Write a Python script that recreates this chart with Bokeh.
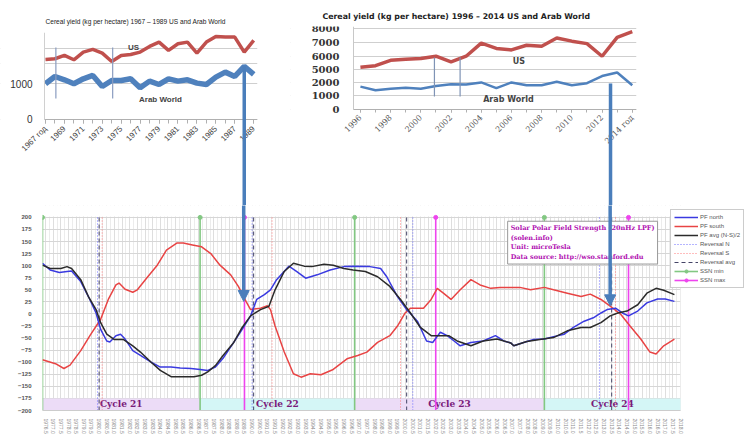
from bokeh.plotting import figure
from bokeh.layouts import column, row
from bokeh.models import (Range1d, FixedTicker, SingleIntervalTicker, PrintfTickFormatter,
                          Label, Legend, LegendItem, BoxAnnotation)
from bokeh.core.properties import value
from bokeh.embed import file_html
from bokeh.resources import INLINE

# ---------------- data: cereal yield 1967-1989 ----------------
years_a = list(range(1967, 1990))
us_a = [1682, 1701, 1794, 1673, 1888, 1963, 1860, 1626, 1794, 1822, 1888, 2047, 2168,
        1935, 2121, 2168, 1860, 2168, 2327, 2308, 2308, 1888, 2215]
arab_a = [1000, 1205, 1112, 1000, 1140, 1234, 925, 1093, 1093, 1140, 888, 1075, 981,
          1140, 1075, 1112, 1019, 981, 1187, 1327, 1206, 1486, 1262]
ticks_a = list(range(1967, 1990, 2))
tick_labels_a = {1967: "1967 год"}
brackets_a = [1968.1, 1974.1]

# ---------------- data: cereal yield 1996-2014 ----------------
years_b = list(range(1996, 2015))
us_b = [5186, 5297, 5690, 5760, 5830, 5990, 5570, 5990, 6950, 6560, 6450, 6790, 6720,
        7320, 7090, 6910, 5990, 7370, 7780]
arab_b = [1670, 1410, 1515, 1590, 1515, 1715, 1846, 1820, 1975, 1565, 1975, 1770, 1770,
          2025, 1770, 1920, 2440, 2700, 1770]
ticks_b = list(range(1996, 2015, 2))
tick_labels_b = {2014: "2014 год"}
ytick_values_b = [0, 1000, 2000, 5000, 6000, 7000, 8000]
brackets_b = [2000.9, 2002.6]

# ---------------- data: solar polar field strength ----------------
north_x = [1976.3, 1976.8, 1977.4, 1977.9, 1978.2, 1978.8, 1979.3, 1979.8, 1980.1, 1980.5, 1980.7,
           1981.1, 1981.4, 1981.7, 1982.2, 1982.7, 1983.4, 1984.0, 1984.7, 1985.3, 1986.0, 1986.6,
           1987.1, 1987.6, 1988.1, 1988.8, 1989.35, 1989.9, 1990.3, 1990.8, 1991.2, 1991.6, 1992.4,
           1992.9, 1993.5, 1994.25, 1995.1, 1996.0, 1996.6, 1997.7, 1998.4, 1998.8, 1999.5, 2000.1,
           2000.8, 2001.4, 2001.8, 2002.3, 2002.75, 2003.2, 2003.6, 2004.3, 2005.1, 2005.9, 2006.45,
           2006.9, 2007.1, 2007.75, 2008.4, 2009.1, 2009.7, 2010.4, 2011.0, 2011.7, 2012.3, 2012.8,
           2013.2, 2013.75, 2014.2, 2014.6, 2015.2, 2015.8, 2016.5, 2017.0, 2017.6]
north_y = [105, 91, 86, 88, 89, 67, 36, 2, -32, -56, -58,
           -45, -42, -52, -76, -86, -100, -110, -110, -112, -113, -115,
           -117, -110, -92, -59, -32, -4, 30, 40, 50, 71, 99,
           88, 74, 81, 91, 98, 99, 98, 94, 77, 36, 9,
           -15, -56, -59, -38, -45, -56, -66, -59, -56, -45, -56,
           -60, -66, -59, -53, -52, -47, -42, -28, -15, -8, 2,
           9, 12, 2, -4, 6, 23, 31, 31, 26]
south_x = [1976.3, 1977.15, 1977.7, 1978.1, 1978.8, 1979.4, 1980.1, 1980.6, 1981.1, 1981.3, 1981.7,
           1982.2, 1982.5, 1983.1, 1983.8, 1984.4, 1985.1, 1985.5, 1986.1, 1986.7, 1987.3, 1987.9,
           1988.6, 1989.1, 1989.6, 1989.9, 1990.55, 1991.0, 1991.2, 1991.5, 1992.1, 1992.7, 1993.2,
           1993.8, 1994.5, 1995.3, 1996.2, 1996.9, 1997.5, 1998.2, 1999.0, 1999.5, 2000.0, 2000.35,
           2001.2, 2001.7, 2002.1, 2002.5, 2003.0, 2003.6, 2004.3, 2004.9, 2005.6, 2006.2, 2006.9,
           2007.5, 2008.2, 2009.1, 2009.7, 2010.6, 2011.5, 2012.1, 2012.8, 2013.4, 2014.1, 2014.7,
           2015.4, 2016.0, 2016.4, 2016.9, 2017.6]
south_y = [-95, -103, -113, -106, -76, -45, -11, 30, 60, 64, 51,
           45, 50, 74, 101, 132, 147, 147, 143, 139, 125, 101,
           81, 57, 26, 9, 12, 17, 9, -25, -79, -124, -131,
           -124, -126, -115, -93, -86, -79, -59, -45, -25, 2, 12,
           12, 30, 53, 43, 30, 50, 71, 60, 53, 55, 55,
           55, 50, 55, 50, 43, 36, 41, 30, 16, -1, -25,
           -52, -79, -83, -66, -52]
avg_x = [1976.3, 1976.8, 1977.5, 1977.9, 1978.2, 1978.8, 1979.3, 1979.8, 1980.1, 1980.5, 1981.0,
         1981.6, 1982.2, 1982.7, 1983.4, 1984.0, 1984.7, 1985.4, 1986.2, 1986.7, 1987.1, 1987.6,
         1988.1, 1988.8, 1989.35, 1989.9, 1990.55, 1991.1, 1991.5, 1992.1, 1992.7, 1993.4, 1993.9,
         1994.7, 1995.3, 1996.0, 1996.6, 1997.4, 1998.2, 1999.0, 1999.7, 2000.35, 2001.0, 2001.7,
         2002.2, 2002.85, 2003.4, 2004.3, 2005.1, 2006.0, 2006.9, 2007.1, 2007.95, 2008.8, 2009.7,
         2010.6, 2011.5, 2012.1, 2012.8, 2013.4, 2013.9, 2014.5, 2015.2, 2015.8, 2016.4, 2016.9,
         2017.6]
avg_y = [101, 94, 94, 98, 94, 71, 36, 9, -18, -42, -53,
         -53, -66, -79, -100, -117, -130, -130, -130, -127, -120, -107,
         -86, -59, -28, -4, 9, 16, 50, 88, 105, 99, 98,
         103, 101, 94, 91, 88, 77, 57, 30, 2, -28, -45,
         -45, -45, -56, -66, -56, -52, -60, -66, -57, -53, -49,
         -35, -28, -28, -18, -4, 2, 6, 19, 43, 53, 49,
         40]
ssn_min = [1976.3, 1986.6, 1996.7, 2009.1]
ssn_max = [1989.5, 2002.0, 2014.6]
reversal_n = [1979.9, 1990.0, 2000.5, 2012.7]
reversal_s = [1980.2, 1991.3, 1999.7, 2013.75]
reversal_avg = [1980.0, 1990.1, 2000.1, 2013.5]
cycle_names = ["Cycle 21", "Cycle 22", "Cycle 23", "Cycle 24"]
cycle_start = [1976.3, 1986.6, 1996.7, 2009.1]
cycle_end = [1986.6, 1996.7, 2009.1, 2018.0]
cycle_colors = ["#ecdcf7", "#d4f6f6", "#ecdcf7", "#d4f6f6"]

# arrows linking the charts
arrow_a_year = years_a[21]
arrow_a_start = arab_a[21]
arrow_b_year = 2012.56
arrow_b_start = 1900
arrow_c_years = [1989.45, 2013.4]
arrow_c_tips = [26, 17]

RED = "#c0504d"
BLUE = "#4f81bd"
ARROW = "#4a7ebb"
SANS = "Liberation Sans"
SERIF = "DejaVu Serif"

# ====================== top-left chart ======================
XA0, XA1 = 1966.9, 1989.4          # data area
XA_LEFT = 1962.25                  # frame extends over the label margin
YA_TOP, YA_BOT = 2437, -2409
pa = figure(width=290, height=205, x_range=Range1d(XA_LEFT, XA1), y_range=Range1d(YA_BOT, YA_TOP),
            output_backend="svg", toolbar_location=None, frame_align=False,
            min_border_left=0, min_border_right=33, min_border_top=32, min_border_bottom=0)
pa.outline_line_color = None
pa.title.text = "Cereal yield (kg per hectare)  1967 – 1989 US and Arab World"
pa.title.text_font = SANS
pa.title.text_font_size = "6.6px"
pa.title.text_font_style = "normal"
pa.title.text_color = "#222222"
pa.title.offset = 45
pa.title.standoff = 15
pa.add_layout(BoxAnnotation(right=XA0, fill_color="white", fill_alpha=1, line_alpha=0, level="underlay"))
pa.line(years_a, us_a, line_color=RED, line_width=3.5)
pa.line(years_a, arab_a, line_color=BLUE, line_width=5.5)
pa.multi_line([[b, b] for b in brackets_a], [[590, 2020]] * 2, line_color="#8a9cc0", line_width=1.2)
pa.xaxis.fixed_location = 0
pa.xaxis.bounds = (XA0, XA1)
pa.xaxis.ticker = FixedTicker(ticks=ticks_a, minor_ticks=years_a)
pa.xaxis.major_label_overrides = tick_labels_a
pa.xaxis.major_label_orientation = 0.785
pa.xaxis.major_label_text_font = SANS
pa.xaxis.major_label_text_font_size = "8px"
pa.xaxis.major_label_text_color = "#444444"
pa.xaxis.major_label_standoff = 4
pa.xaxis.axis_line_color = "#b0b0b0"
pa.xaxis.major_tick_line_color = "#b0b0b0"
pa.xaxis.minor_tick_line_color = "#b0b0b0"
pa.xaxis.major_tick_out = 4
pa.xaxis.minor_tick_out = 4
pa.xaxis.major_tick_in = 0
pa.xaxis.minor_tick_in = 0
pa.yaxis.fixed_location = XA0
pa.yaxis.ticker = FixedTicker(ticks=[0, 1000, 1580, 2000])
pa.yaxis.major_label_overrides = {1580: "", 2000: ""}
pa.yaxis.bounds = (0, YA_TOP)
pa.yaxis.major_label_text_font = SANS
pa.yaxis.major_label_text_font_size = "10px"
pa.yaxis.major_label_text_color = "#333333"
pa.yaxis.axis_line_color = "#d0d0d0"
pa.yaxis.major_tick_line_color = None
pa.yaxis.minor_tick_line_color = None
pa.yaxis.major_label_standoff = 6
pa.xgrid.grid_line_color = None
pa.ygrid.grid_line_color = "#cfcfcf"
pa.add_layout(Label(x=1976.3, y=2017, text="US", text_font=SANS, text_font_size="8px",
                    text_font_style="bold", text_align="center", text_baseline="middle"))
pa.add_layout(Label(x=1979.15, y=560, text="Arab World", text_font=SANS, text_font_size="8px",
                    text_font_style="bold", text_align="center", text_baseline="middle"))
pa.segment(x0=[arrow_a_year], y0=[arrow_a_start], x1=[arrow_a_year], y1=[YA_BOT],
           line_color=ARROW, line_width=3.5, level="overlay")

# ====================== top-right chart ======================
BREAK = 2100  # broken axis: values above the break are drawn 2100 lower
us_b_disp = [(v - BREAK) / 1000 for v in us_b]
arab_b_disp = [v / 1000 for v in arab_b]
ytick_disp_b = [v / 1000 if v < 3000 else (v - BREAK) / 1000 for v in ytick_values_b]
XB0, XB1 = 1995.54, 2014.28
XB_LEFT = 1991.37
YB_TOP, YB_BOT = 6.06, -7.01

pbt = figure(width=454, height=205, x_range=Range1d(XB_LEFT, XB1), y_range=Range1d(YB_BOT, YB_TOP),
             output_backend="svg", toolbar_location=None, frame_align=False,
             min_border_left=0, min_border_right=108, min_border_top=26, min_border_bottom=0)
pbt.outline_line_color = None
pbt.title.text = "Cereal yield (kg per hectare)  1996 – 2014 US and Arab World"
pbt.title.text_font = "DejaVu Sans"
pbt.title.text_font_size = "7.8px"
pbt.title.text_font_style = "bold"
pbt.title.text_color = "#222222"
pbt.title.offset = 32
pbt.title.standoff = 12
pbt.add_layout(BoxAnnotation(right=XB0, fill_color="white", fill_alpha=1, line_alpha=0, level="underlay"))
pbt.line(years_b, us_b_disp, line_color=RED, line_width=3.5)
pbt.line(years_b, arab_b_disp, line_color=BLUE, line_width=2.5)
pbt.multi_line([[b, b] for b in brackets_b], [[0.95, 3.8]] * 2, line_color="#7f93b5", line_width=1.2)
pbt.xaxis.fixed_location = 0
pbt.xaxis.bounds = (XB0, XB1)
pbt.xaxis.ticker = FixedTicker(ticks=ticks_b, minor_ticks=years_b)
pbt.xaxis.major_label_overrides = tick_labels_b
pbt.xaxis.major_label_orientation = 0.785
pbt.xaxis.major_label_text_font = SERIF
pbt.xaxis.major_label_text_font_size = "8px"
pbt.xaxis.major_label_text_color = "#555555"
pbt.xaxis.major_label_standoff = 4
pbt.xaxis.axis_line_color = "#b0b0b0"
pbt.xaxis.major_tick_line_color = "#b0b0b0"
pbt.xaxis.minor_tick_line_color = "#b0b0b0"
pbt.xaxis.major_tick_out = 3
pbt.xaxis.minor_tick_out = 3
pbt.xaxis.major_tick_in = 0
pbt.xaxis.minor_tick_in = 0
pbt.yaxis.fixed_location = XB0
pbt.yaxis.ticker = FixedTicker(ticks=ytick_disp_b)
pbt.yaxis.major_label_overrides = {d: str(v) for d, v in zip(ytick_disp_b, ytick_values_b)}
pbt.yaxis.bounds = (0, YB_TOP)
pbt.yaxis.major_label_text_font = SERIF
pbt.yaxis.major_label_text_font_size = "10px"
pbt.yaxis.major_label_text_font_style = "bold"
pbt.yaxis.major_label_text_color = "#333333"
pbt.yaxis.axis_line_color = "#c8c8c8"
pbt.yaxis.major_tick_line_color = None
pbt.yaxis.minor_tick_line_color = None
pbt.yaxis.major_label_standoff = 8
pbt.xgrid.grid_line_color = None
pbt.ygrid.grid_line_color = "#cfcfcf"
pbt.add_layout(Label(x=2006.5, y=3.5, text="US", text_font="DejaVu Sans", text_font_size="8px",
                     text_font_style="bold", text_align="center", text_baseline="middle"))
pbt.add_layout(Label(x=2005.8, y=0.73, text="Arab World", text_font="DejaVu Sans",
                     text_font_size="8px", text_font_style="bold", text_align="center",
                     text_baseline="middle"))
pbt.segment(x0=[arrow_b_year], y0=[arrow_b_start / 1000], x1=[arrow_b_year], y1=[YB_BOT],
            line_color=ARROW, line_width=3.5, level="overlay")

# ====================== bottom chart ======================
XC0, XC_END = 1976.3, 2018.0       # data area
XC1 = 2022.18                      # frame extends under the legend
YC_TOP = 224.6
pc = figure(width=744, height=231, title=None, x_range=Range1d(XC0, XC1), y_range=Range1d(-200, YC_TOP),
            output_backend="svg", toolbar_location=None, frame_align=False,
            min_border_left=42, min_border_right=0, min_border_top=0, min_border_bottom=24)
pc.outline_line_color = None
pc.xaxis.bounds = (XC0, XC_END)
pc.xaxis.ticker = SingleIntervalTicker(interval=0.5, num_minor_ticks=2)
pc.xaxis.formatter = PrintfTickFormatter(format="%.1f")
pc.xaxis.major_label_orientation = "vertical"
pc.xaxis.major_label_text_font_size = "5px"
pc.xaxis.major_label_text_color = "#888888"
pc.xaxis.major_label_standoff = 2
pc.xaxis.axis_line_color = "#cccccc"
pc.xaxis.major_tick_line_color = None
pc.xaxis.minor_tick_line_color = None
pc.yaxis.ticker = SingleIntervalTicker(interval=25, num_minor_ticks=0)
pc.yaxis.major_label_text_font_size = "6px"
pc.yaxis.major_label_text_font_style = "bold"
pc.yaxis.major_label_text_color = "#555555"
pc.yaxis.axis_line_color = None
pc.yaxis.major_tick_line_color = None
pc.yaxis.major_label_standoff = 5
pc.xgrid.grid_line_color = "#dedede"
pc.xgrid.minor_grid_line_color = "#ececec"
pc.ygrid.grid_line_color = "#d6d6d6"
# white margins around the data area (above +200 and right of the last date)
pc.add_layout(BoxAnnotation(bottom=202, fill_color="white", fill_alpha=1, line_alpha=0, level="underlay"))
pc.add_layout(BoxAnnotation(left=XC_END, fill_color="white", fill_alpha=1, line_alpha=0, level="underlay"))

pc.quad(left=cycle_start, right=cycle_end, bottom=-200, top=-175, fill_color=cycle_colors,
        line_color=None)
pc.text(x=[(s + e) / 2 for s, e in zip(cycle_start, cycle_end)], y=[-187.5] * 4, text=cycle_names,
        text_font=value("DejaVu Serif"), text_font_style="bold", text_font_size="9px",
        text_color="#7a1a7a", text_align="center", text_baseline="middle")

r_min = pc.segment(x0=ssn_min, y0=-200, x1=ssn_min, y1=200, line_color="#82c882", line_width=1.6)
r_min_m = pc.scatter(ssn_min, [200] * len(ssn_min), size=4, color="#82c882")
r_max = pc.segment(x0=ssn_max, y0=-200, x1=ssn_max, y1=200, line_color="#ee44ee", line_width=1.6)
r_max_m = pc.scatter(ssn_max, [200] * len(ssn_max), size=4, color="#ee44ee")
r_rn = pc.segment(x0=reversal_n, y0=-200, x1=reversal_n, y1=200, line_color="#6a6aff",
                  line_width=1, line_dash="1 2")
r_rs = pc.segment(x0=reversal_s, y0=-200, x1=reversal_s, y1=200, line_color="#ff7a7a",
                  line_width=1, line_dash="1 2")
r_ra = pc.segment(x0=reversal_avg, y0=-200, x1=reversal_avg, y1=200, line_color="#444466",
                  line_width=1, line_dash="4 3")

r_s = pc.line(south_x, south_y, line_color="#e84444", line_width=1.5)
r_n = pc.line(north_x, north_y, line_color="#3a3ae0", line_width=1.5)
r_a = pc.line(avg_x, avg_y, line_color="#2b2b2b", line_width=1.5)

legend = Legend(items=[
    LegendItem(label="PF north", renderers=[r_n]),
    LegendItem(label="PF south", renderers=[r_s]),
    LegendItem(label="PF avg (N-S)/2", renderers=[r_a]),
    LegendItem(label="Reversal N", renderers=[r_rn]),
    LegendItem(label="Reversal S", renderers=[r_rs]),
    LegendItem(label="Reversal avg", renderers=[r_ra]),
    LegendItem(label="SSN min", renderers=[r_min, r_min_m]),
    LegendItem(label="SSN max", renderers=[r_max, r_max_m]),
], location=(628, 122))
legend.label_text_font_size = "6px"
legend.label_text_color = "#555555"
legend.glyph_width = 24
legend.glyph_height = 8
legend.label_height = 8
legend.spacing = 1
legend.padding = 3
legend.margin = 0
legend.label_standoff = 2
legend.border_line_color = "#999999"
legend.background_fill_alpha = 1
pc.add_layout(legend)

pc.add_layout(Label(x=2006.7, y=192,
                    text="Solar Polar Field Strength (20nHz LPF)\n(solen.info)\nUnit: microTesla\nData source: http://wso.stanford.edu",
                    text_font="DejaVu Serif", text_font_style="bold", text_font_size="6.5px",
                    text_color="#b010b0", text_align="left", text_baseline="top",
                    background_fill_color="white", border_line_color="#999999", padding=3))

# arrows arriving in the bottom chart
px_x = (XC1 - XC0) / 702
px_y = (YC_TOP + 200) / 207
bases = [t + 11 * px_y for t in arrow_c_tips]
pc.segment(x0=arrow_c_years, y0=[YC_TOP] * 2, x1=arrow_c_years, y1=bases, line_color=ARROW,
           line_width=3.5, level="overlay")
pc.patches(xs=[[ax - 5.5 * px_x, ax + 5.5 * px_x, ax] for ax in arrow_c_years],
           ys=[[b, b, t] for b, t in zip(bases, arrow_c_tips)],
           fill_color=ARROW, line_color=ARROW, level="overlay")

layout = column(row(pa, pbt), pc)
open("out.html", "w").write(file_html(layout, INLINE))
